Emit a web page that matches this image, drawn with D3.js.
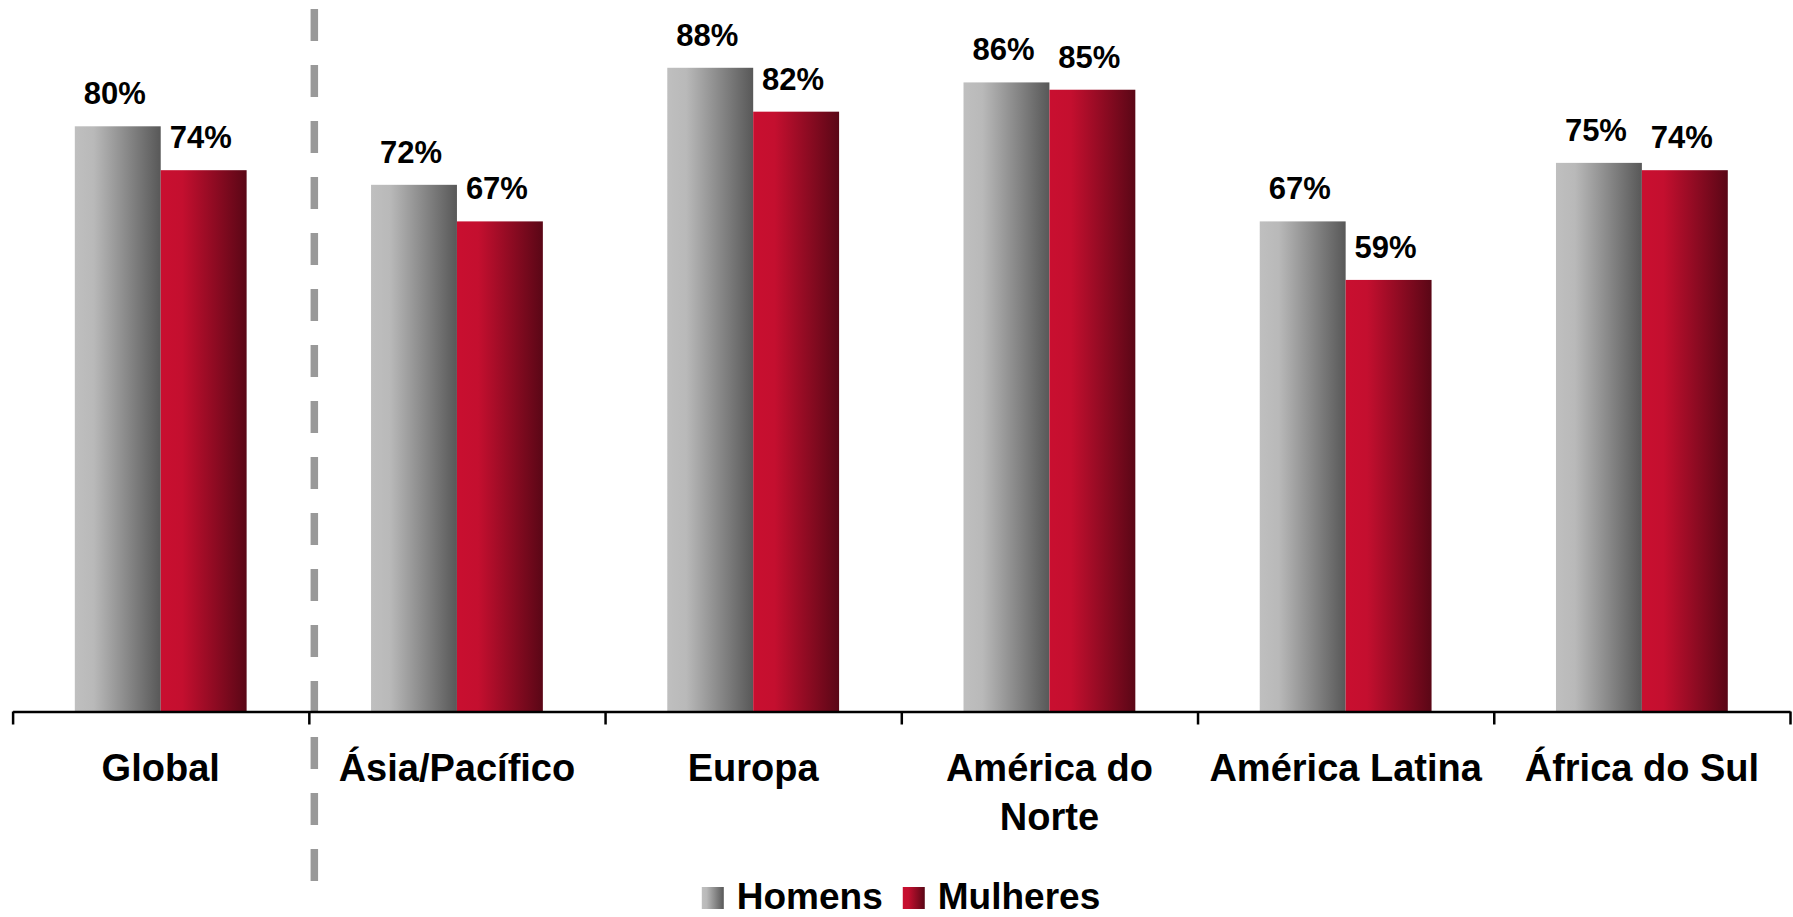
<!DOCTYPE html>
<html>
<head>
<meta charset="utf-8">
<script src="https://cdn.jsdelivr.net/npm/d3@7"></script>
<style>
  body { margin: 0; background: #fff; }
  text { font-family: "Liberation Sans", Arial, sans-serif; font-weight: bold; fill: #000; }
</style>
</head>
<body>
<div id="chart"></div>
<script>
// data
var categories = ["Global", "Ásia/Pacífico", "Europa", "América do Norte", "América Latina", "África do Sul"];
var seriesNames = ["Homens", "Mulheres"];
var homens = [80, 72, 88, 86, 67, 75];
var mulheres = [74, 67, 82, 85, 59, 74];

var width = 1793, height = 917;
var baseline = 711.5;

var svg = d3.select("#chart")
    .append("svg")
        .attr("width", width)
        .attr("height", height);

// gradients for the two series
var defs = svg.append("defs");
function addGradient(id, stops) {
    var g = defs.append("linearGradient")
        .attr("id", id)
        .attr("x1", "0%").attr("x2", "100%")
        .attr("y1", "0%").attr("y2", "0%");
    stops.forEach(function(s) {
        g.append("stop").attr("offset", s[0]).attr("stop-color", s[1]);
    });
}
addGradient("grad-homens", [["0%", "#bfbfbf"], ["22%", "#b9b9b9"], ["100%", "#585858"]]);
addGradient("grad-mulheres", [["0%", "#c90f30"], ["25%", "#c40f2f"], ["100%", "#5a0716"]]);
var fills = {"Homens": "url(#grad-homens)", "Mulheres": "url(#grad-mulheres)"};

var data = categories.map(function(c, i) {
    return {cat: c, values: [{key: "Homens", v: homens[i]}, {key: "Mulheres", v: mulheres[i]}]};
});

// scales
var x0 = d3.scaleBand()
    .domain(categories)
    .range([12.6, 1790]);
var bw = x0.bandwidth();
var x1 = d3.scaleBand()
    .domain(seriesNames)
    .range([bw * 0.21, bw * 0.79]);
var y = d3.scaleLinear()
    .domain([0, 100])
    .range([baseline, baseline - 731.5]);

// dashed separator after Global
svg.append("line")
    .attr("x1", x0("Ásia/Pacífico") + 5.5)
    .attr("x2", x0("Ásia/Pacífico") + 5.5)
    .attr("y1", 9)
    .attr("y2", 881)
    .attr("stroke", "#999999")
    .attr("stroke-width", 7.5)
    .attr("stroke-dasharray", "32,24");

// bars
var groups = svg.append("g")
    .selectAll("g")
    .data(data)
    .enter()
    .append("g")
        .attr("transform", function(d) { return "translate(" + x0(d.cat) + ",0)"; });

groups.selectAll("rect")
    .data(function(d) { return d.values; })
    .enter()
    .append("rect")
        .attr("x", function(d) { return x1(d.key); })
        .attr("y", function(d) { return y(d.v); })
        .attr("width", x1.bandwidth())
        .attr("height", function(d) { return baseline - y(d.v); })
        .attr("fill", function(d) { return fills[d.key]; });

groups.selectAll("text")
    .data(function(d) { return d.values; })
    .enter()
    .append("text")
        .attr("x", function(d) { return x1(d.key) + x1.bandwidth() / 2 - 3; })
        .attr("y", function(d) { return y(d.v) - 22; })
        .attr("text-anchor", "middle")
        .attr("font-size", "31px")
        .text(function(d) { return d.v + "%"; });

// x axis: ticks on category boundaries
var xIdx = d3.scaleLinear()
    .domain([0, categories.length])
    .range(x0.range());
var axis = svg.append("g")
    .attr("transform", "translate(0," + baseline + ")")
    .call(d3.axisBottom(xIdx)
        .ticks(categories.length)
        .tickSize(13)
        .tickSizeOuter(0)
        .tickFormat(""));
axis.select(".domain").attr("stroke", "#000").attr("stroke-width", 2.5);
axis.selectAll(".tick line").attr("stroke", "#000").attr("stroke-width", 2.5);

// category labels, wrapped
var catLabels = svg.append("g")
    .selectAll("text")
    .data(categories)
    .enter()
    .append("text")
        .attr("x", function(d) { return x0(d) + bw / 2; })
        .attr("y", 781)
        .attr("text-anchor", "middle")
        .attr("font-size", "38px")
        .text(function(d) { return d; });

catLabels.each(function(d) {
    var t = d3.select(this);
    if (this.getComputedTextLength() <= 290) return;
    var words = d.split(" ");
    var last = words.pop();
    t.text(null);
    t.append("tspan").attr("x", x0(d) + bw / 2).attr("dy", 0).text(words.join(" "));
    t.append("tspan").attr("x", x0(d) + bw / 2).attr("dy", 49).text(last);
});

// legend
var legend = svg.append("g");
var items = legend.selectAll("g")
    .data(seriesNames)
    .enter()
    .append("g");
items.append("rect")
    .attr("width", 22)
    .attr("height", 22)
    .attr("y", 887)
    .attr("fill", function(d) { return fills[d]; });
items.append("text")
    .attr("x", 35)
    .attr("y", 909)
    .attr("font-size", "37px")
    .text(function(d) { return d; });

var xPos = 0;
var offsets = [];
items.each(function(d) {
    offsets.push(xPos);
    xPos += this.getBBox().width + 20;
});
var total = xPos - 20;
var startX = 901 - total / 2;
items.attr("transform", function(d, i) { return "translate(" + (startX + offsets[i]) + ",0)"; });
</script>
</body>
</html>
